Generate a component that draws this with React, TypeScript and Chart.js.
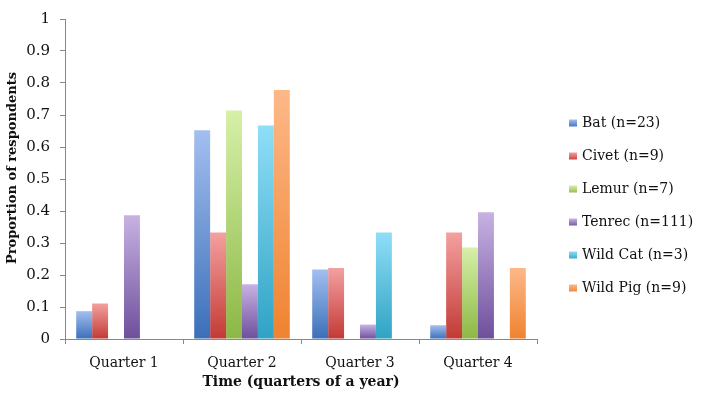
import React, { useEffect, useRef } from "react";
import { Chart, registerables } from "chart.js";

Chart.register(...registerables);

const categories = ["Quarter 1", "Quarter 2", "Quarter 3", "Quarter 4"];
const seriesNames = ["Bat (n=23)", "Civet (n=9)", "Lemur (n=7)", "Tenrec (n=111)", "Wild Cat (n=3)", "Wild Pig (n=9)"];
const bat = [0.087, 0.652, 0.217, 0.043];
const civet = [0.111, 0.333, 0.222, 0.333];
const lemur = [0, 0.714, 0, 0.286];
const tenrec = [0.387, 0.171, 0.045, 0.396];
const wildCat = [0, 0.667, 0.333, 0];
const wildPig = [0, 0.778, 0, 0.222];
const yTicks = [0, 0.1, 0.2, 0.3, 0.4, 0.5, 0.6, 0.7, 0.8, 0.9, 1];
const yTitle = "Proportion of respondents";
const xTitle = "Time (quarters of a year)";

const palette = [
  { top: "#a3bff0", bottom: "#3b6fb8", mid: "#5a88cc" },
  { top: "#f4a0a0", bottom: "#c23a35", mid: "#d65e5a" },
  { top: "#d6f0a8", bottom: "#8cb845", mid: "#a9cf6c" },
  { top: "#c7b2e2", bottom: "#6e4f9c", mid: "#9278bc" },
  { top: "#90def7", bottom: "#2fa3c4", mid: "#56bcd9" },
  { top: "#fdb888", bottom: "#ef8330", mid: "#f59c56" },
];

const FONT = "'DejaVu Serif', serif";

const makeBg = (c: { top: string; bottom: string; mid: string }) => (ctx: any) => {
  if (ctx.type !== "data") return c.mid;
  const chart = ctx.chart;
  const y = chart.scales && chart.scales.y;
  if (!chart.chartArea || !y) return c.mid;
  const yTop = y.getPixelForValue(ctx.raw);
  const yBot = y.getPixelForValue(0);
  if (!isFinite(yTop) || !isFinite(yBot) || yBot - yTop < 1) return c.bottom;
  const g = chart.ctx.createLinearGradient(0, yTop, 0, yBot);
  g.addColorStop(0, c.top);
  g.addColorStop(1, c.bottom);
  return g;
};

const customPlugin = {
  id: "customLegendTitle",
  afterDraw(chart: any) {
    const { ctx, chartArea, height } = chart;
    ctx.save();
    // y-axis title
    ctx.fillStyle = "#111";
    ctx.font = `bold 13px ${FONT}`;
    ctx.textAlign = "center";
    ctx.textBaseline = "middle";
    ctx.translate(13, (chartArea.top + chartArea.bottom) / 2 - 11);
    ctx.rotate(-Math.PI / 2);
    ctx.fillText(yTitle, 0, 0);
    ctx.restore();

    // legend
    ctx.save();
    const n = chart.data.datasets.length;
    const step = 33;
    const boxX = chartArea.right + 32;
    const cy = height / 2 + 4;
    const y0 = cy - ((n - 1) * step) / 2;
    ctx.font = `14px ${FONT}`;
    ctx.textAlign = "left";
    ctx.textBaseline = "middle";
    chart.data.datasets.forEach((ds: any, i: number) => {
      const y = y0 + i * step;
      const c = palette[i];
      const g = ctx.createLinearGradient(0, y - 4, 0, y + 4);
      g.addColorStop(0, c.top);
      g.addColorStop(1, c.bottom);
      ctx.fillStyle = g;
      ctx.fillRect(boxX, y - 4, 8, 7);
      ctx.fillStyle = "#111";
      ctx.fillText(ds.label, boxX + 13, y);
    });
    ctx.restore();
  },
};

export default function App() {
  const ref = useRef<HTMLCanvasElement | null>(null);
  useEffect(() => {
    if (!ref.current) return;
    const series = [bat, civet, lemur, tenrec, wildCat, wildPig];
    const chart = new Chart(ref.current, {
      type: "bar",
      data: {
        labels: categories,
        datasets: series.map((d, i) => ({
          label: seriesNames[i],
          data: d,
          backgroundColor: makeBg(palette[i]),
          borderWidth: 0,
          barPercentage: 1,
          categoryPercentage: 0.81,
        })),
      },
      plugins: [customPlugin],
      options: {
        animation: false,
        responsive: true,
        maintainAspectRatio: false,
        layout: { padding: { top: -3, right: 165, left: 0, bottom: 0 } },
        plugins: {
          tooltip: { enabled: false },
          legend: { display: false },
        },
        scales: {
          x: {
            grid: { display: true, drawOnChartArea: false, drawTicks: true, tickLength: 5, color: "#888", offset: true },
            border: { display: true, color: "#888" },
            ticks: { color: "#111", font: { family: FONT, size: 14 }, padding: 11 },
            title: { display: true, text: xTitle, color: "#111", font: { family: FONT, size: 14, weight: "bold" }, padding: { top: 0, bottom: 13 } },
            afterFit: (axis: any) => {
              axis.height = 65;
            },
          },
          y: {
            min: 0,
            max: 1,
            afterBuildTicks: (axis: any) => {
              axis.ticks = yTicks.map((v) => ({ value: v }));
            },
            afterFit: (axis: any) => {
              axis.width = 65;
            },
            grid: { display: true, drawOnChartArea: false, drawTicks: true, tickLength: 5, color: "#888" },
            border: { display: true, color: "#888" },
            ticks: { color: "#111", font: { family: FONT, size: 15 }, padding: 10, callback: (v: any) => String(Math.round(Number(v) * 10) / 10) },
          },
        },
      },
    });
    return () => chart.destroy();
  }, []);
  return (
    <div style={{ position: "fixed", left: 0, top: 0, width: 702, height: 404, background: "#fff" }}>
      <canvas ref={ref} />
    </div>
  );
}
